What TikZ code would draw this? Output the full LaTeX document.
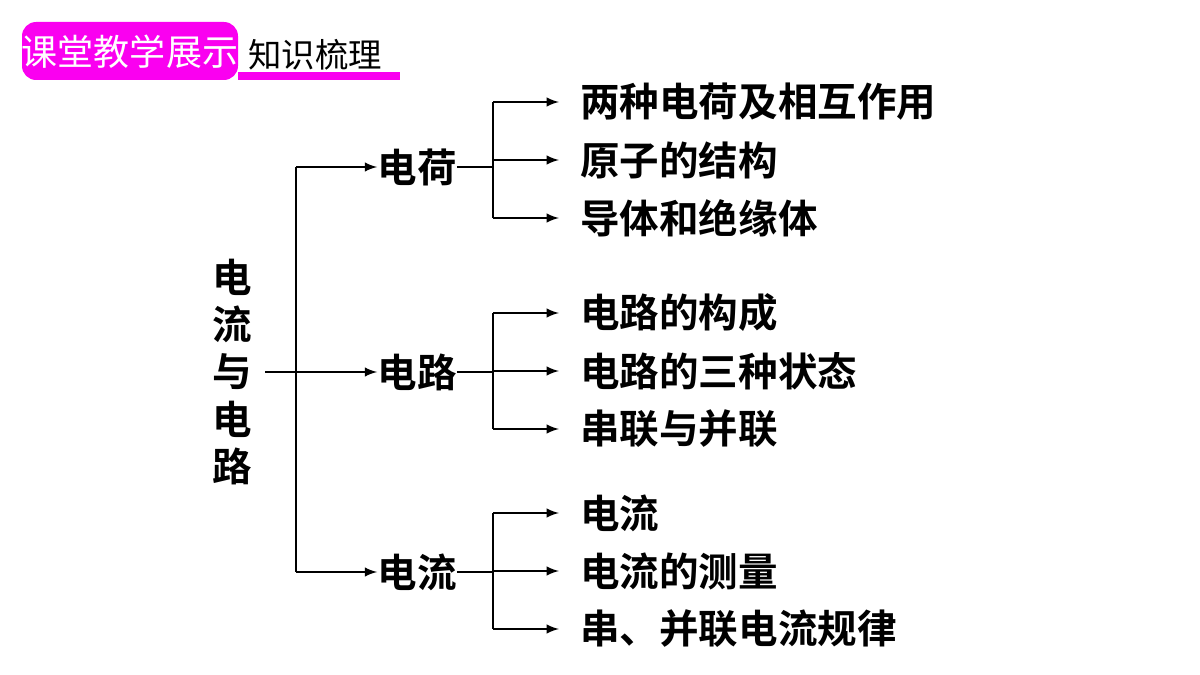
\documentclass[tikz,border=0pt]{standalone}
\usepackage{fontspec}
\newfontfamily\cjk{Noto Sans CJK SC}
\newfontfamily\cjkb{Noto Sans CJK SC Bold}
\usetikzlibrary{positioning}
\definecolor{hdmag}{RGB}{250,0,240}
\tikzset{
  item/.style={anchor=west,inner sep=0pt,font=\cjkb\fontsize{22.5}{24}\selectfont},
  head/.style={inner sep=0pt,font=\cjkb\fontsize{22.5}{24}\selectfont},
  link/.style={line width=1.4pt,-latex}
}
\begin{document}
\begin{tikzpicture}[x=0.02cm,y=-0.02cm]
  \useasboundingbox (0,0) rectangle (1200,675);
  %header
  \fill[hdmag] (238,72) rectangle (400,80);
  \fill[hdmag,rounded corners=8pt] (22,22) rectangle (238,80);
  \node[white,font=\cjk\fontsize{20.5}{22}\selectfont] (tag) at (130,52) {课堂教学展示};
  \node[font=\cjk\fontsize{19}{21}\selectfont] (title) at (315,55) {知识梳理};
  %root
  \node[head,align=center,font=\cjkb\fontsize{22.5}{27}\selectfont] (root) at (232,372) {电\\流\\与\\电\\路};
  \coordinate (rj) at (296,372);
  \node[head] (q) at (417,167) {电荷};
  \node[head] (c) at (417,372) {电路};
  \node[head] (i) at (417,572) {电流};
  \draw[link] (265,372) -- (c.west);
  \draw[link] (rj |- q) -- (q.west);
  \draw[link] (rj |- i) -- (i.west);
  \draw[line width=1.4pt] (rj |- q) -- (rj |- i);
  %leaves
  \foreach \p/\y/\a/\b/\c in {q/102/两种电荷及相互作用/原子的结构/导体和绝缘体,
                               c/313/电路的构成/电路的三种状态/串联与并联,
                               i/513/电流/电流的测量/串、并联电流规律}{
    \node[item] (\p1) at (580,\y) {\a};
    \node[item] (\p2) at (580,\y+58) {\b};
    \node[item] (\p3) at (580,\y+116) {\c};
    \coordinate (\p j) at (493,\y+58);
    \draw[line width=1.4pt] (\p.east) -- (\p j |- \p.east);
    \draw[line width=1.4pt] (\p j |- \p1) -- (\p j |- \p3);
    \draw[link] (\p j |- \p1) -- ([xshift=-12pt]\p1.west);
    \draw[link] (\p j |- \p2) -- ([xshift=-12pt]\p2.west);
    \draw[link] (\p j |- \p3) -- ([xshift=-12pt]\p3.west);
  }
\end{tikzpicture}
\end{document}
